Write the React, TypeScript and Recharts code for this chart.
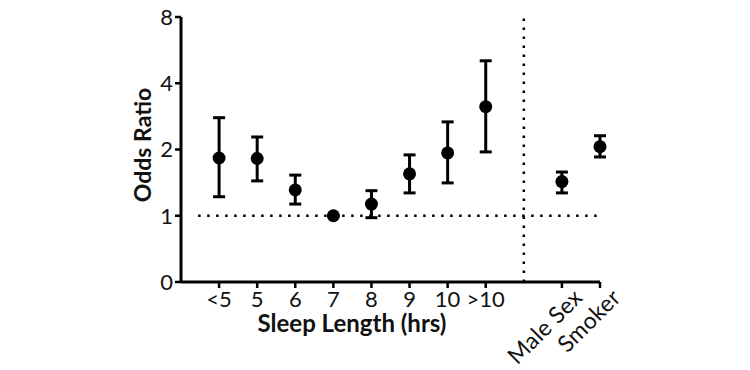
import {
  ErrorBar,
  ReferenceLine,
  Scatter,
  ScatterChart,
  XAxis,
  YAxis,
} from "recharts";

// categories along the x axis; slot 8 is left empty for the divider line
const labels = ["<5", "5", "6", "7", "8", "9", "10", ">10", "Male Sex", "Smoker"];
const slots = [0, 1, 2, 3, 4, 5, 6, 7, 9, 10];
const oddsRatio = [1.83, 1.82, 1.31, 1.0, 1.13, 1.55, 1.93, 3.13, 1.43, 2.06];
const ciLow = [1.22, 1.44, 1.13, 1.0, 0.98, 1.27, 1.41, 1.95, 1.27, 1.85];
const ciHigh = [2.79, 2.28, 1.53, 1.0, 1.3, 1.89, 2.67, 5.06, 1.58, 2.31];
const yTicks = [0.5, 1, 2, 4, 8];

const rows = labels.map((label, i) => ({
  label,
  x: slots[i],
  y: oddsRatio[i],
  err: [oddsRatio[i] - ciLow[i], ciHigh[i] - oddsRatio[i]],
}));

const FONT = "Lato, 'Open Sans', sans-serif";

function XTick(props: any) {
  const { x, y, payload } = props;
  const i = slots.indexOf(payload.value);
  const text = labels[i] ?? "";
  if (payload.value >= 9) {
    const ax = x + 9;
    const ay = y - 4;
    return (
      <text
        x={ax}
        y={ay}
        transform={`rotate(-45, ${ax}, ${ay})`}
        textAnchor="end"
        dominantBaseline="hanging"
        fontSize={23}
        letterSpacing={0.3}
        fontFamily={FONT}
        fill="#111"
      >
        {text}
      </text>
    );
  }
  return (
    <text x={x} y={y + 17} textAnchor="middle" fontSize={22} fontFamily={FONT} fill="#111">
      {text}
    </text>
  );
}

function Dot(props: any) {
  const { cx, cy } = props;
  return <circle cx={cx} cy={cy} r={6.5} fill="#000" />;
}

export default function App() {
  return (
    <div
      style={{
        position: "absolute",
        left: 0,
        top: 0,
        width: 750,
        height: 370,
        background: "#fff",
        fontFamily: FONT,
      }}
    >
      <ScatterChart
        width={750}
        height={370}
        margin={{ top: 17, right: 150, left: 121, bottom: 58 }}
      >
        <XAxis
          type="number"
          dataKey="x"
          domain={[-1, 10]}
          ticks={slots}
          interval={0}
          tick={<XTick />}
          axisLine={{ stroke: "#000", strokeWidth: 3 }}
          tickLine={{ stroke: "#000", strokeWidth: 2.5 }}
          tickSize={6}
          height={30}
        />
        <YAxis
          type="number"
          dataKey="y"
          scale="log"
          domain={[0.5, 8]}
          allowDataOverflow
          ticks={yTicks}
          interval={0}
          tickFormatter={(v) => (v === 0.5 ? "0" : String(v))}
          tick={{ fontSize: 22, fill: "#111", fontFamily: FONT }}
          axisLine={{ stroke: "#000", strokeWidth: 3 }}
          tickLine={{ stroke: "#000", strokeWidth: 2.5 }}
          tickSize={6}
          width={60}
        />
        <ReferenceLine
          segment={[
            { x: -0.55, y: 1 },
            { x: 10, y: 1 },
          ]}
          stroke="#000"
          strokeWidth={2.5}
          strokeDasharray="2.5 6.5"
        />
        <ReferenceLine
          x={8}
          stroke="#000"
          strokeWidth={2.5}
          strokeDasharray="2.5 6.5"
        />
        <Scatter data={rows} fill="#000" shape={<Dot />} isAnimationActive={false}>
          <ErrorBar
            dataKey="err"
            direction="y"
            width={6}
            strokeWidth={3}
            stroke="#000"
            isAnimationActive={false}
          />
        </Scatter>
      </ScatterChart>
      <div
        style={{
          position: "absolute",
          left: 352,
          top: 323,
          transform: "translate(-50%, -50%)",
          fontSize: 24,
          lineHeight: 1,
          fontWeight: 700,
          whiteSpace: "nowrap",
          color: "#111",
        }}
      >
        Sleep Length (hrs)
      </div>
      <div
        style={{
          position: "absolute",
          left: 142,
          top: 145,
          transform: "translate(-50%, -50%) rotate(-90deg)",
          fontSize: 23,
          lineHeight: 1,
          fontWeight: 700,
          whiteSpace: "nowrap",
          color: "#111",
        }}
      >
        Odds Ratio
      </div>
    </div>
  );
}
